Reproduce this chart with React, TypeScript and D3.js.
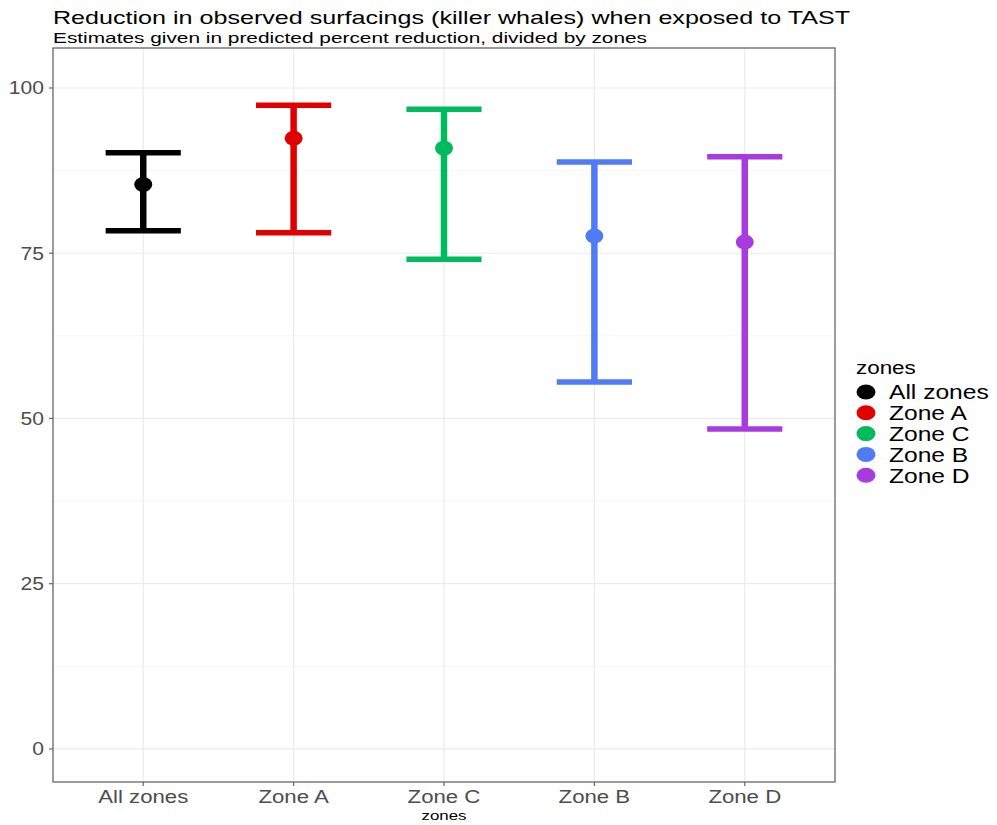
import React from "react";
import * as d3 from "d3";

const zones = ["All zones", "Zone A", "Zone C", "Zone B", "Zone D"];
const estimates = [85.4, 92.4, 90.9, 77.6, 76.7];
const lowerCI = [78.4, 78.1, 74.1, 55.5, 48.4];
const upperCI = [90.2, 97.4, 96.8, 88.8, 89.6];
const colors = ["#000000", "#E00000", "#00BA5E", "#4F7BF5", "#A83BE0"];
const yTicks = [0, 25, 50, 75, 100];
const yMinor = [12.5, 37.5, 62.5, 87.5];

const W = 997, H = 825;
const panel = { left: 53, right: 835, top: 48, bottom: 782 };

function SText(props: { x: number; y: number; sx: number; size: number; anchor?: string; fill?: string; dy?: string; children: React.ReactNode }) {
  const { x, y, sx, size, anchor, fill, dy, children } = props;
  return (
    <text transform={`translate(${x},${y}) scale(${sx},1)`} fontSize={size} textAnchor={anchor || "start"} fill={fill || "#000"} dy={dy}>
      {children}
    </text>
  );
}

export default function App() {
  const x = d3.scalePoint<string>().domain(zones).range([panel.left, panel.right]).padding(0.6);
  const y = d3.scaleLinear().domain([-5, 106.05]).range([panel.bottom, panel.top]);
  const band = x.step();
  const capHalf = band * 0.25;
  const font = "'Liberation Sans', Arial, sans-serif";
  return (
    <svg width={W} height={H} style={{ position: "absolute", left: 0, top: 0, background: "#fff" }} fontFamily={font}>
      <rect x={0} y={0} width={W} height={H} fill="#fff" />
      <text x={53} y={24} fontSize={18.5} fill="#000" textLength={797} lengthAdjust="spacingAndGlyphs">Reduction in observed surfacings (killer whales) when exposed to TAST</text>
      <text x={53} y={42.5} fontSize={14.5} fill="#000" textLength={594} lengthAdjust="spacingAndGlyphs">Estimates given in predicted percent reduction, divided by zones</text>
      {yMinor.map((t) => (
        <line key={"m" + t} x1={panel.left} x2={panel.right} y1={y(t)} y2={y(t)} stroke="#f3f3f3" strokeWidth={0.8} />
      ))}
      {yTicks.map((t) => (
        <line key={"g" + t} x1={panel.left} x2={panel.right} y1={y(t)} y2={y(t)} stroke="#ebebeb" strokeWidth={1.2} />
      ))}
      {zones.map((z) => (
        <line key={"v" + z} x1={x(z)} x2={x(z)} y1={panel.top} y2={panel.bottom} stroke="#ebebeb" strokeWidth={1.2} />
      ))}
      <rect x={panel.left} y={panel.top} width={panel.right - panel.left} height={panel.bottom - panel.top} fill="none" stroke="#666" strokeWidth={1.3} />
      {yTicks.map((t) => (
        <g key={"yt" + t}>
          <line x1={panel.left - 4} x2={panel.left} y1={y(t)} y2={y(t)} stroke="#666" strokeWidth={1.2} />
          <SText x={panel.left - 9} y={y(t)} sx={1.14} size={18.5} anchor="end" fill="#4d4d4d" dy="0.35em">{t}</SText>
        </g>
      ))}
      {zones.map((z) => (
        <g key={"xt" + z}>
          <line x1={x(z)} x2={x(z)} y1={panel.bottom} y2={panel.bottom + 4} stroke="#666" strokeWidth={1.2} />
          <SText x={x(z) as number} y={803} sx={1.2} size={18.5} anchor="middle" fill="#4d4d4d">{z}</SText>
        </g>
      ))}
      <SText x={(panel.left + panel.right) / 2} y={820} sx={1.25} size={13.5} anchor="middle">zones</SText>
      {zones.map((z, i) => {
        const cx = x(z) as number;
        return (
          <g key={"e" + z} stroke={colors[i]}>
            <line x1={cx} x2={cx} y1={y(upperCI[i])} y2={y(lowerCI[i])} strokeWidth={6.5} />
            <line x1={cx - capHalf} x2={cx + capHalf} y1={y(upperCI[i])} y2={y(upperCI[i])} strokeWidth={5.5} />
            <line x1={cx - capHalf} x2={cx + capHalf} y1={y(lowerCI[i])} y2={y(lowerCI[i])} strokeWidth={5.5} />
            <ellipse cx={cx} cy={y(estimates[i])} rx={9} ry={7.5} fill={colors[i]} stroke="none" />
          </g>
        );
      })}
      <SText x={856} y={374} sx={1.18} size={19}>zones</SText>
      {zones.map((z, i) => (
        <g key={"l" + z}>
          <ellipse cx={866} cy={392 + i * 20.8} rx={9.5} ry={7.5} fill={colors[i]} />
          <SText x={889} y={392 + i * 20.8} sx={1.2} size={20.5} dy="0.36em">{z}</SText>
        </g>
      ))}
    </svg>
  );
}
